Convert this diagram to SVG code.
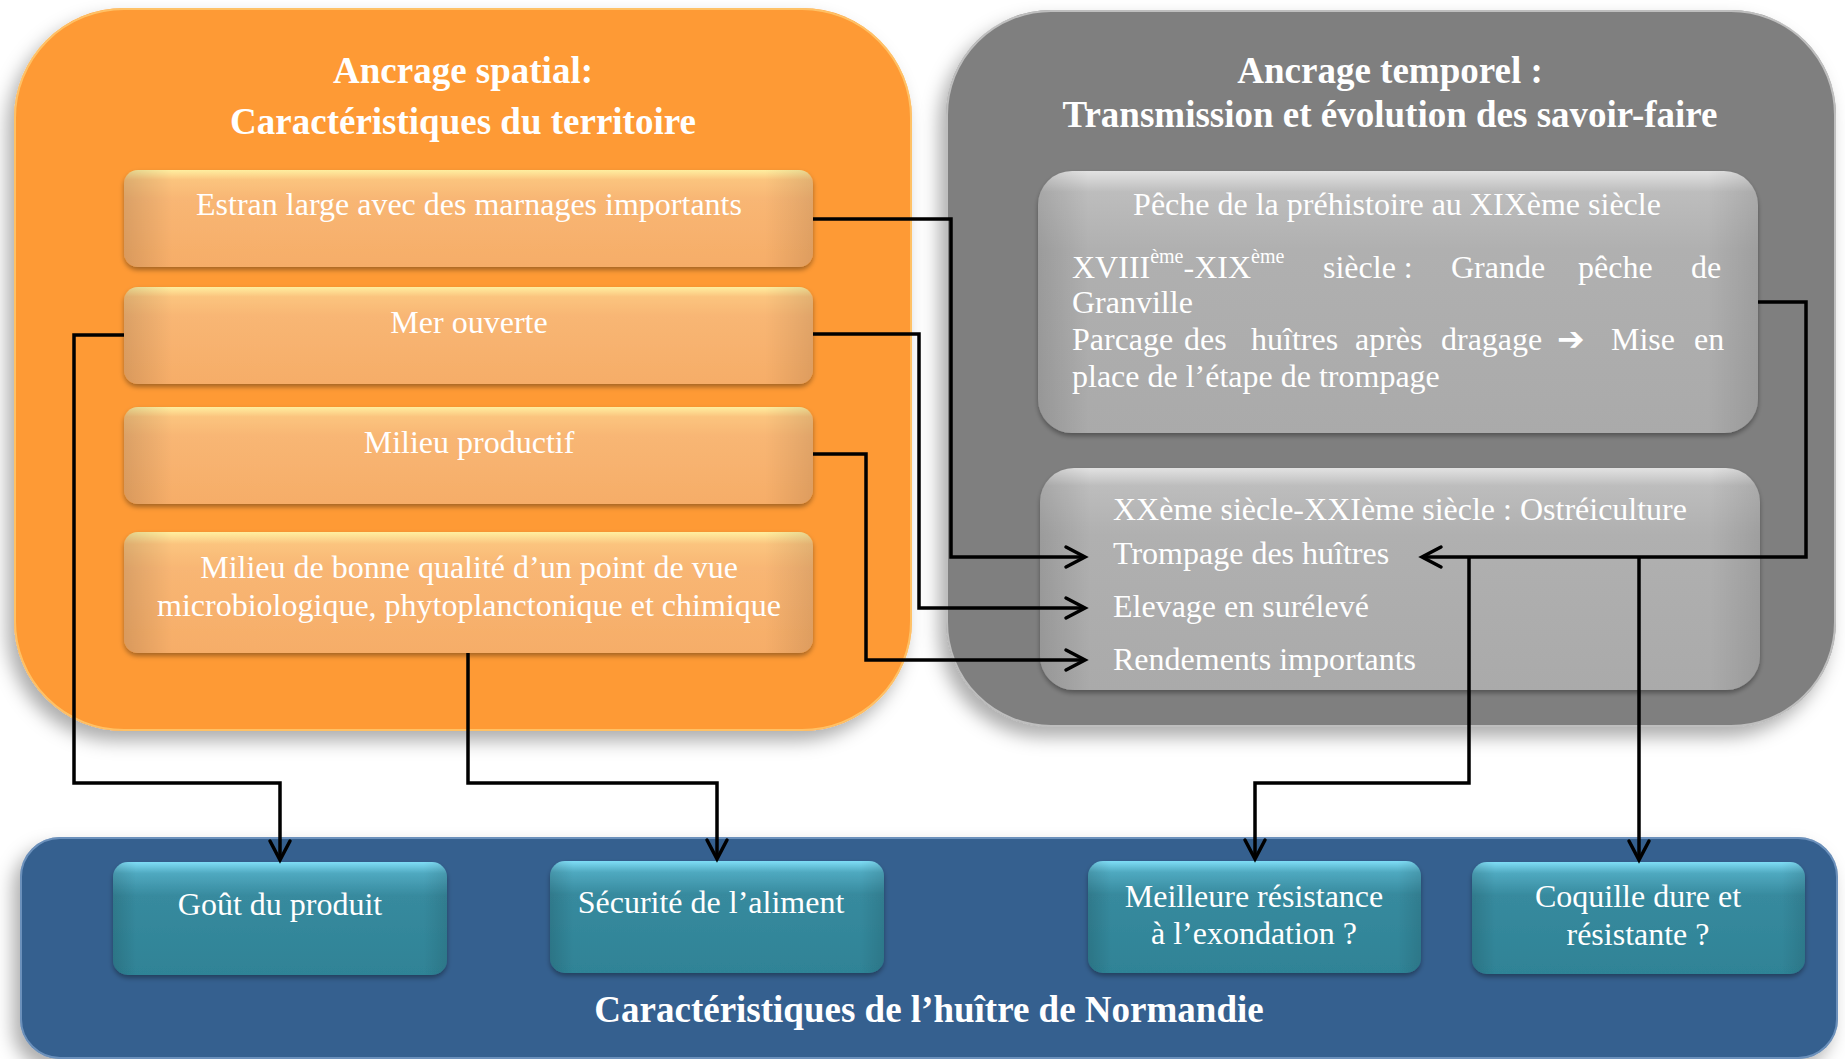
<svg xmlns="http://www.w3.org/2000/svg" width="1845" height="1059" viewBox="0 0 1845 1059">
<style>
.ttl{font-family:"Liberation Serif","Times New Roman",serif;font-weight:bold;font-size:37px;fill:#fff;text-anchor:middle}
.t{font-family:"Liberation Serif","Times New Roman",serif;font-size:32px;fill:#fff}
.c{text-anchor:middle}
.sup{font-size:20px}
.arr{font-family:"DejaVu Sans",sans-serif;font-size:33px;font-weight:bold}
.conn{fill:none;stroke:#000;stroke-width:3.5;stroke-linejoin:miter}
</style>
<defs>
<filter id="sh" x="-10%" y="-10%" width="125%" height="130%">
<feDropShadow dx="-7" dy="10" stdDeviation="9" flood-color="#000" flood-opacity="0.32"/>
</filter>
<filter id="ish" x="-5%" y="-10%" width="110%" height="130%">
<feDropShadow dx="0" dy="3" stdDeviation="2.5" flood-color="#000" flood-opacity="0.35"/>
</filter>
<linearGradient id="gOr" x1="0" y1="0" x2="0" y2="1">
<stop offset="0" stop-color="#FFEFA0"/>
<stop offset="0.1" stop-color="#FBC47E"/>
<stop offset="0.3" stop-color="#F8B674"/>
<stop offset="1" stop-color="#F6AD68"/>
</linearGradient>
<linearGradient id="gGr" x1="0" y1="0" x2="0" y2="1">
<stop offset="0" stop-color="#E2E2E2"/>
<stop offset="0.08" stop-color="#BDBDBD"/>
<stop offset="0.3" stop-color="#B0B0B0"/>
<stop offset="1" stop-color="#AAAAAA"/>
</linearGradient>
<linearGradient id="gTe" x1="0" y1="0" x2="0" y2="1">
<stop offset="0" stop-color="#7FDDF6"/>
<stop offset="0.1" stop-color="#4FA9C0"/>
<stop offset="0.3" stop-color="#378A9E"/>
<stop offset="1" stop-color="#2F8396"/>
</linearGradient>
<linearGradient id="gSide" x1="0" y1="0" x2="1" y2="0">
<stop offset="0" stop-color="#000" stop-opacity="0.12"/>
<stop offset="0.07" stop-color="#000" stop-opacity="0"/>
<stop offset="0.93" stop-color="#000" stop-opacity="0"/>
<stop offset="1" stop-color="#000" stop-opacity="0.1"/>
</linearGradient>
<marker id="ah" viewBox="-24 -14 28 28" refX="0" refY="0" markerWidth="28" markerHeight="28" markerUnits="userSpaceOnUse" orient="auto">
<path d="M-19,-10 L0,0 L-19,10" fill="none" stroke="#000" stroke-width="3.5" stroke-linecap="round" stroke-linejoin="miter"/>
</marker>
</defs>
<rect width="1845" height="1059" fill="#fff"/>

<g id="spatial">
<rect x="14" y="8" width="898" height="723" rx="110" fill="#FE9A36" filter="url(#sh)"/>
<rect x="15" y="9" width="896" height="721" rx="109" fill="none" stroke="#FFD27A" stroke-width="2" opacity="0.7"/>
<text class="ttl" x="463" y="83">Ancrage spatial:</text>
<text class="ttl" x="463" y="134">Caractéristiques du territoire</text>
</g>

<g id="temporel">
<rect x="946" y="10" width="890" height="717" rx="105" fill="#7F7F7F" filter="url(#sh)"/>
<rect x="947" y="11" width="888" height="715" rx="104" fill="none" stroke="#D8D8D8" stroke-width="2" opacity="0.7"/>
<text class="ttl" x="1390" y="83">Ancrage temporel :</text>
<text class="ttl" x="1390" y="127">Transmission et évolution des savoir-faire</text>
</g>

<g id="normandie">
<rect x="20" y="837" width="1818" height="222" rx="40" fill="#36608F" filter="url(#sh)"/>
<rect x="21" y="838" width="1816" height="220" rx="39" fill="none" stroke="#8FB0D8" stroke-width="2" opacity="0.6"/>
<text class="ttl" x="929" y="1022">Caractéristiques de l’huître de Normandie</text>
</g>

<g id="estran">
<rect x="124" y="170" width="689" height="97" rx="14" fill="url(#gOr)" filter="url(#ish)"/>
<rect x="124" y="170" width="689" height="97" rx="14" fill="url(#gSide)"/>
<text class="t c" x="469" y="215">Estran large avec des marnages importants</text>
</g>

<g id="mer">
<rect x="124" y="287" width="689" height="97" rx="14" fill="url(#gOr)" filter="url(#ish)"/>
<rect x="124" y="287" width="689" height="97" rx="14" fill="url(#gSide)"/>
<text class="t c" x="469" y="333">Mer ouverte</text>
</g>

<g id="productif">
<rect x="124" y="407" width="689" height="97" rx="14" fill="url(#gOr)" filter="url(#ish)"/>
<rect x="124" y="407" width="689" height="97" rx="14" fill="url(#gSide)"/>
<text class="t c" x="469" y="453">Milieu productif</text>
</g>

<g id="qualite">
<rect x="124" y="532" width="689" height="121" rx="14" fill="url(#gOr)" filter="url(#ish)"/>
<rect x="124" y="532" width="689" height="121" rx="14" fill="url(#gSide)"/>
<text class="t c" x="469" y="578">Milieu de bonne qualité d’un point de vue</text>
<text class="t c" x="469" y="616">microbiologique, phytoplanctonique et chimique</text>
</g>

<g id="peche">
<rect x="1038" y="171" width="720" height="262" rx="34" fill="url(#gGr)" filter="url(#ish)"/>
<rect x="1038" y="171" width="720" height="262" rx="34" fill="url(#gSide)"/>
<text class="t c" x="1397" y="215">Pêche de la préhistoire au XIXème siècle</text>
<text class="t" y="278"><tspan x="1072">XVIII</tspan><tspan class="sup" dy="-15">ème</tspan><tspan dy="15">-XIX</tspan><tspan class="sup" dy="-15">ème</tspan><tspan x="1323" dy="15">siècle :</tspan><tspan x="1451">Grande</tspan><tspan x="1578">pêche</tspan><tspan x="1691">de</tspan></text>
<text class="t" x="1072" y="313">Granville</text>
<text class="t" y="350"><tspan x="1072">Parcage</tspan><tspan x="1184">des</tspan><tspan x="1251">huîtres</tspan><tspan x="1355">après</tspan><tspan x="1441">dragage</tspan><tspan class="arr" x="1557">➔</tspan><tspan x="1611">Mise</tspan><tspan x="1694">en</tspan></text>
<text class="t" x="1072" y="387">place de l’étape de trompage</text>
</g>

<g id="ostreiculture">
<rect x="1040" y="468" width="720" height="222" rx="34" fill="url(#gGr)" filter="url(#ish)"/>
<rect x="1040" y="468" width="720" height="222" rx="34" fill="url(#gSide)"/>
<text class="t" x="1113" y="520">XXème siècle-XXIème siècle : Ostréiculture</text>
<text class="t" x="1113" y="564">Trompage des huîtres</text>
<text class="t" x="1113" y="617">Elevage en surélevé</text>
<text class="t" x="1113" y="670">Rendements importants</text>
</g>

<g id="gout">
<rect x="113" y="862" width="334" height="113" rx="15" fill="url(#gTe)" filter="url(#ish)"/>
<rect x="113" y="862" width="334" height="113" rx="15" fill="url(#gSide)"/>
<text class="t c" x="280" y="915">Goût du produit</text>
</g>

<g id="securite">
<rect x="550" y="861" width="334" height="112" rx="15" fill="url(#gTe)" filter="url(#ish)"/>
<rect x="550" y="861" width="334" height="112" rx="15" fill="url(#gSide)"/>
<text class="t c" x="711" y="913">Sécurité de l’aliment</text>
</g>

<g id="exondation">
<rect x="1088" y="861" width="333" height="112" rx="15" fill="url(#gTe)" filter="url(#ish)"/>
<rect x="1088" y="861" width="333" height="112" rx="15" fill="url(#gSide)"/>
<text class="t c" x="1254" y="907">Meilleure résistance</text>
<text class="t c" x="1254" y="944">à l’exondation ?</text>
</g>

<g id="coquille">
<rect x="1472" y="862" width="333" height="112" rx="15" fill="url(#gTe)" filter="url(#ish)"/>
<rect x="1472" y="862" width="333" height="112" rx="15" fill="url(#gSide)"/>
<text class="t c" x="1638" y="907">Coquille dure et</text>
<text class="t c" x="1638" y="945">résistante ?</text>
</g>

<g id="connectors">
<path class="conn" d="M813,219 H951 V557 H1085" marker-end="url(#ah)"/>
<path class="conn" d="M813,334 H919 V608 H1085" marker-end="url(#ah)"/>
<path class="conn" d="M813,454 H866 V660 H1085" marker-end="url(#ah)"/>
<path class="conn" d="M124,335 H74 V783 H280 V860" marker-end="url(#ah)"/>
<path class="conn" d="M468,653 V783 H717 V859" marker-end="url(#ah)"/>
<path class="conn" d="M1758,302 H1806 V557 H1422" marker-end="url(#ah)"/>
<path class="conn" d="M1469,557 V783 H1255 V859" marker-end="url(#ah)"/>
<path class="conn" d="M1639,557 V860" marker-end="url(#ah)"/>
</g>
</svg>
